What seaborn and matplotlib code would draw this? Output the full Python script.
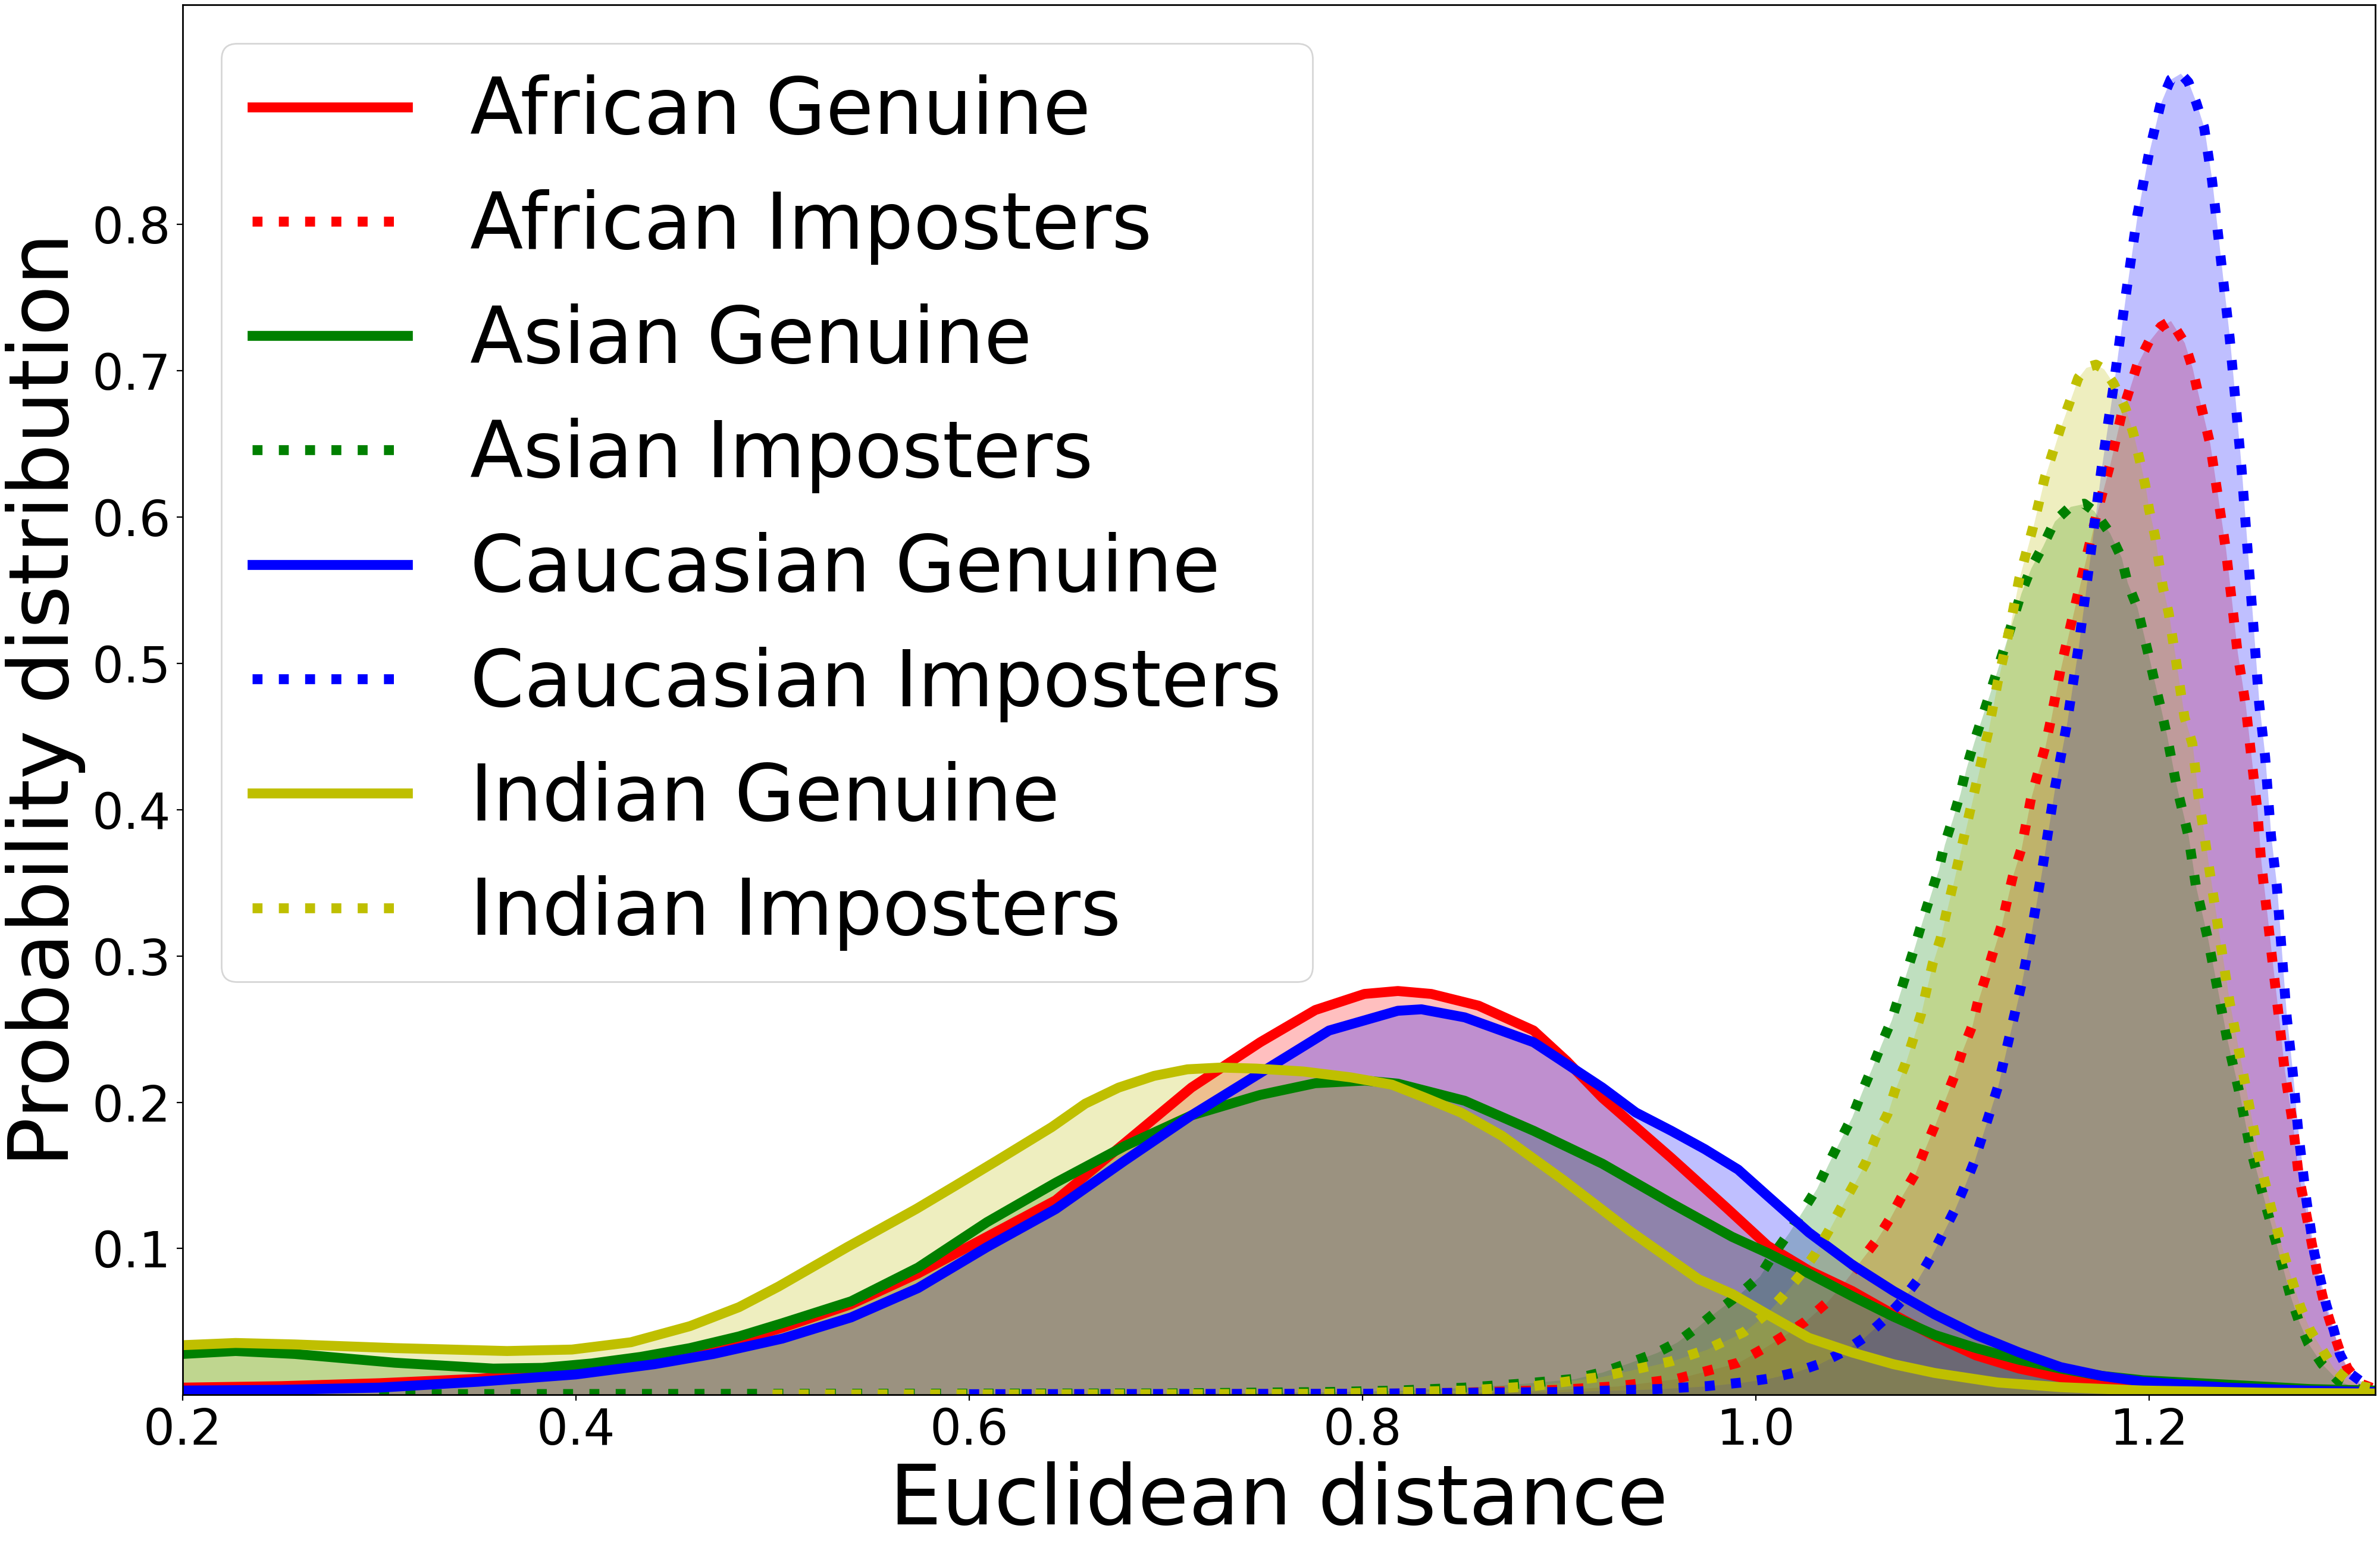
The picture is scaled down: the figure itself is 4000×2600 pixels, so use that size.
import matplotlib
matplotlib.use("Agg")
import matplotlib.pyplot as plt
import seaborn as sns

# values (Euclidean distance -> density)
af_gen_x = [0.200, 0.250, 0.300, 0.350, 0.400, 0.440, 0.470, 0.505, 0.540, 0.574, 0.609, 0.644,
            0.679, 0.713, 0.748, 0.776, 0.801, 0.818, 0.835, 0.859, 0.887, 0.904, 0.922, 0.957,
            0.985, 1.006, 1.027, 1.049, 1.070, 1.091, 1.112, 1.134, 1.155, 1.176, 1.197, 1.240,
            1.280, 1.315]
af_gen_y = [0.005, 0.006, 0.008, 0.011, 0.016, 0.023, 0.032, 0.046, 0.062, 0.083, 0.108, 0.133,
            0.172, 0.210, 0.241, 0.263, 0.274, 0.276, 0.274, 0.266, 0.249, 0.228, 0.203, 0.162,
            0.128, 0.102, 0.085, 0.071, 0.055, 0.040, 0.027, 0.018, 0.012, 0.008, 0.006, 0.004,
            0.003, 0.002]

af_imp_x = [0.600, 0.800, 0.850, 0.900, 0.930, 0.960, 0.991, 1.003, 1.015, 1.025, 1.036, 1.045,
            1.053, 1.061, 1.068, 1.074, 1.081, 1.086, 1.091, 1.096, 1.101, 1.105, 1.110, 1.113,
            1.117, 1.121, 1.125, 1.128, 1.131, 1.135, 1.140, 1.147, 1.150, 1.155, 1.161, 1.167,
            1.173, 1.180, 1.186, 1.194, 1.200, 1.206, 1.211, 1.218, 1.222, 1.225, 1.228, 1.231,
            1.235, 1.239, 1.242, 1.245, 1.249, 1.252, 1.255, 1.257, 1.260, 1.263, 1.266, 1.269,
            1.273, 1.276, 1.281, 1.286, 1.289, 1.293, 1.297, 1.301, 1.307, 1.315]
af_imp_y = [0.0003, 0.0006, 0.0015, 0.0035, 0.006, 0.011, 0.022, 0.031, 0.041, 0.050, 0.063, 0.077,
            0.091, 0.105, 0.120, 0.135, 0.151, 0.168, 0.184, 0.201, 0.218, 0.235, 0.252, 0.269,
            0.286, 0.304, 0.321, 0.339, 0.356, 0.373, 0.408, 0.442, 0.461, 0.496, 0.531, 0.566,
            0.600, 0.635, 0.670, 0.704, 0.720, 0.730, 0.734, 0.719, 0.702, 0.684, 0.667, 0.650,
            0.614, 0.578, 0.543, 0.507, 0.472, 0.436, 0.400, 0.364, 0.329, 0.293, 0.258, 0.221,
            0.186, 0.151, 0.116, 0.080, 0.063, 0.046, 0.030, 0.018, 0.008, 0.004]

as_gen_x = [0.200, 0.227, 0.257, 0.308, 0.358, 0.383, 0.408, 0.433, 0.458, 0.483, 0.505, 0.540,
            0.574, 0.609, 0.644, 0.679, 0.713, 0.748, 0.776, 0.801, 0.818, 0.852, 0.887, 0.922,
            0.957, 0.988, 1.006, 1.027, 1.049, 1.070, 1.091, 1.112, 1.134, 1.155, 1.176, 1.197,
            1.240, 1.282, 1.315]
as_gen_y = [0.028, 0.030, 0.028, 0.022, 0.018, 0.0185, 0.0215, 0.026, 0.032, 0.040, 0.049, 0.064,
            0.087, 0.118, 0.145, 0.170, 0.191, 0.205, 0.213, 0.2148, 0.2127, 0.201, 0.1805, 0.158,
            0.131, 0.108, 0.097, 0.083, 0.0675, 0.0535, 0.041, 0.032, 0.024, 0.018, 0.013, 0.010,
            0.007, 0.004, 0.003]

as_imp_x = [0.300, 0.700, 0.783, 0.818, 0.852, 0.884, 0.908, 0.922, 0.936, 0.950, 0.960, 0.970,
            0.980, 0.991, 1.002, 1.009, 1.017, 1.024, 1.031, 1.037, 1.043, 1.049, 1.054, 1.059,
            1.064, 1.069, 1.073, 1.077, 1.081, 1.085, 1.089, 1.093, 1.096, 1.100, 1.104, 1.107,
            1.111, 1.119, 1.127, 1.135, 1.140, 1.146, 1.152, 1.160, 1.167, 1.172, 1.180, 1.186,
            1.189, 1.194, 1.197, 1.200, 1.203, 1.206, 1.209, 1.214, 1.220, 1.224, 1.230, 1.235,
            1.240, 1.246, 1.251, 1.258, 1.265, 1.272, 1.276, 1.281, 1.288, 1.296, 1.306, 1.315]
as_imp_y = [0.0005, 0.001, 0.002, 0.003, 0.005, 0.008, 0.011, 0.0155, 0.022, 0.029, 0.036, 0.046,
            0.057, 0.068, 0.081, 0.096, 0.111, 0.126, 0.141, 0.158, 0.174, 0.190, 0.207, 0.223,
            0.240, 0.256, 0.273, 0.290, 0.307, 0.325, 0.342, 0.359, 0.376, 0.393, 0.411, 0.428,
            0.446, 0.479, 0.513, 0.548, 0.565, 0.580, 0.597, 0.607, 0.609, 0.604, 0.589, 0.572,
            0.555, 0.538, 0.521, 0.504, 0.486, 0.469, 0.451, 0.416, 0.382, 0.346, 0.311, 0.276,
            0.241, 0.206, 0.171, 0.136, 0.102, 0.067, 0.051, 0.035, 0.021, 0.010, 0.004, 0.002]

ca_gen_x = [0.200, 0.250, 0.300, 0.350, 0.400, 0.440, 0.470, 0.505, 0.540, 0.574, 0.609, 0.644,
            0.679, 0.713, 0.748, 0.783, 0.818, 0.830, 0.852, 0.887, 0.922, 0.939, 0.957, 0.974,
            0.991, 1.006, 1.027, 1.049, 1.070, 1.091, 1.112, 1.134, 1.155, 1.176, 1.197, 1.240,
            1.280, 1.315]
ca_gen_y = [0.003, 0.0035, 0.005, 0.009, 0.014, 0.021, 0.028, 0.0385, 0.053, 0.073, 0.101, 0.127,
            0.160, 0.191, 0.220, 0.249, 0.2625, 0.2635, 0.258, 0.241, 0.210, 0.193, 0.1805, 0.168,
            0.154, 0.136, 0.111, 0.089, 0.071, 0.055, 0.041, 0.029, 0.019, 0.013, 0.009, 0.005,
            0.003, 0.002]

ca_imp_x = [0.600, 0.800, 0.900, 0.950, 0.975, 0.993, 1.006, 1.019, 1.032, 1.044, 1.055, 1.065,
            1.074, 1.082, 1.089, 1.095, 1.101, 1.106, 1.111, 1.115, 1.119, 1.123, 1.129, 1.135,
            1.140, 1.146, 1.152, 1.158, 1.164, 1.170, 1.176, 1.182, 1.188, 1.194, 1.200, 1.206,
            1.211, 1.216, 1.220, 1.224, 1.228, 1.232, 1.235, 1.238, 1.241, 1.244, 1.247, 1.250,
            1.253, 1.256, 1.259, 1.262, 1.265, 1.268, 1.270, 1.273, 1.276, 1.280, 1.284, 1.290,
            1.294, 1.297, 1.302, 1.308, 1.315]
ca_imp_y = [0.0005, 0.0008, 0.002, 0.004, 0.006, 0.0085, 0.011, 0.015, 0.021, 0.029, 0.039, 0.051,
            0.064, 0.078, 0.094, 0.110, 0.126, 0.142, 0.159, 0.176, 0.193, 0.210, 0.245, 0.280,
            0.315, 0.362, 0.414, 0.457, 0.510, 0.572, 0.635, 0.690, 0.750, 0.806, 0.849, 0.883,
            0.899, 0.903, 0.897, 0.883, 0.866, 0.830, 0.794, 0.758, 0.722, 0.678, 0.633, 0.579,
            0.526, 0.472, 0.436, 0.382, 0.347, 0.293, 0.258, 0.221, 0.178, 0.133, 0.097, 0.062,
            0.044, 0.028, 0.015, 0.009, 0.005]

in_gen_x = [0.200, 0.227, 0.257, 0.308, 0.365, 0.398, 0.428, 0.458, 0.483, 0.503, 0.538, 0.573,
            0.593, 0.614, 0.642, 0.659, 0.676, 0.694, 0.711, 0.728, 0.746, 0.770, 0.794, 0.815,
            0.832, 0.850, 0.871, 0.902, 0.936, 0.971, 0.988, 1.006, 1.027, 1.049, 1.070, 1.091,
            1.123, 1.155, 1.197, 1.260, 1.315]
in_gen_y = [0.034, 0.0355, 0.0345, 0.032, 0.030, 0.031, 0.036, 0.047, 0.060, 0.074, 0.101, 0.127,
            0.143, 0.160, 0.183, 0.199, 0.210, 0.218, 0.2225, 0.2237, 0.223, 0.221, 0.217, 0.212,
            0.203, 0.193, 0.177, 0.147, 0.112, 0.079, 0.069, 0.055, 0.039, 0.029, 0.021, 0.015,
            0.0085, 0.0053, 0.003, 0.0015, 0.001]

in_imp_x = [0.500, 0.700, 0.780, 0.852, 0.887, 0.922, 0.957, 0.975, 0.994, 1.005, 1.014, 1.022,
            1.030, 1.037, 1.043, 1.050, 1.056, 1.061, 1.067, 1.071, 1.076, 1.080, 1.084, 1.087,
            1.090, 1.094, 1.097, 1.100, 1.106, 1.112, 1.118, 1.123, 1.129, 1.134, 1.141, 1.147,
            1.155, 1.164, 1.168, 1.173, 1.177, 1.182, 1.188, 1.192, 1.195, 1.198, 1.200, 1.203,
            1.205, 1.207, 1.210, 1.214, 1.218, 1.222, 1.225, 1.229, 1.233, 1.237, 1.241, 1.246,
            1.251, 1.256, 1.262, 1.269, 1.277, 1.282, 1.288, 1.294, 1.300, 1.308, 1.315]
in_imp_y = [0.0003, 0.0005, 0.0008, 0.003, 0.006, 0.0125, 0.023, 0.031, 0.043, 0.055, 0.068, 0.081,
            0.096, 0.112, 0.127, 0.144, 0.159, 0.176, 0.192, 0.209, 0.226, 0.243, 0.260, 0.278,
            0.295, 0.312, 0.330, 0.347, 0.382, 0.417, 0.452, 0.487, 0.523, 0.558, 0.593, 0.627,
            0.661, 0.695, 0.702, 0.704, 0.701, 0.691, 0.674, 0.657, 0.640, 0.622, 0.605, 0.587,
            0.569, 0.552, 0.534, 0.499, 0.463, 0.445, 0.410, 0.374, 0.338, 0.303, 0.268, 0.233,
            0.197, 0.162, 0.128, 0.094, 0.060, 0.044, 0.031, 0.018, 0.011, 0.006, 0.004]

races = ["African", "Asian", "Caucasian", "Indian"]
race_colors = ["r", "g", "b", "y"]
series = {
    "African": ((af_gen_x, af_gen_y), (af_imp_x, af_imp_y)),
    "Asian": ((as_gen_x, as_gen_y), (as_imp_x, as_imp_y)),
    "Caucasian": ((ca_gen_x, ca_gen_y), (ca_imp_x, ca_imp_y)),
    "Indian": ((in_gen_x, in_gen_y), (in_imp_x, in_imp_y)),
}

plt.rcParams["axes.linewidth"] = 1.0
fig, ax = plt.subplots(figsize=(20, 13), dpi=200)
fig.subplots_adjust(left=0.0767, right=0.998, bottom=0.0983, top=0.997)

for race, col in zip(races, race_colors):
    (gx, gy), (ix, iy) = series[race]
    ax.fill_between(gx, gy, color=col, alpha=0.25, lw=0)
    sns.lineplot(x=gx, y=gy, color=col, lw=6, label=race + " Genuine", ax=ax)
    ax.fill_between(ix, iy, color=col, alpha=0.25, lw=0)
    sns.lineplot(x=ix, y=iy, color=col, lw=6, linestyle=":",
                 label=race + " Imposters", ax=ax)

ax.set_xlim(0.2, 1.315)
ax.set_ylim(0, 0.95)
ax.set_xticks([0.2, 0.4, 0.6, 0.8, 1.0, 1.2])
ax.set_yticks([0.1, 0.2, 0.3, 0.4, 0.5, 0.6, 0.7, 0.8])
ax.tick_params(labelsize=30)
ax.set_xlabel("Euclidean distance", fontsize=50)
ax.set_ylabel("Probability distribution", fontsize=50)
ax.legend(loc="upper left", fontsize=47)

fig.savefig("out.png", dpi=200)
